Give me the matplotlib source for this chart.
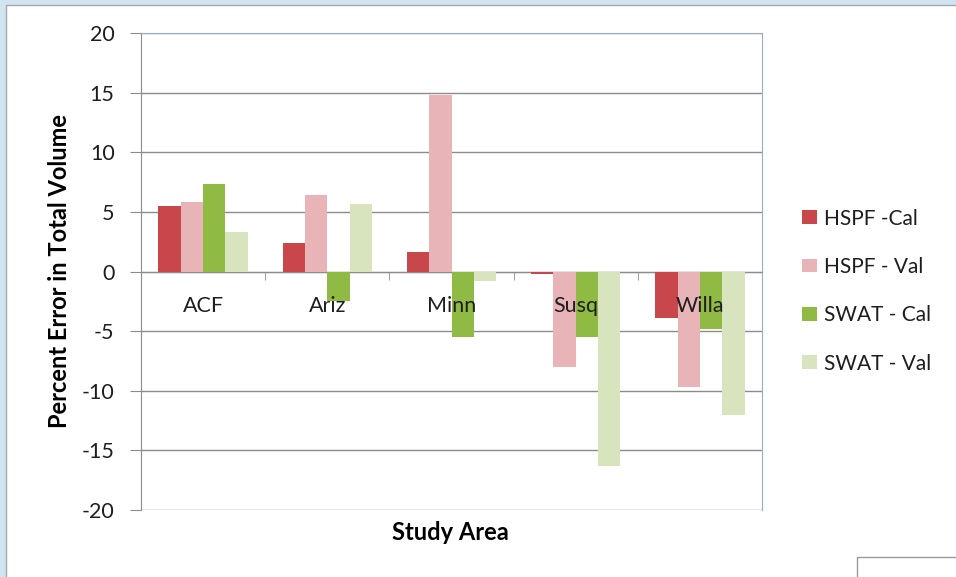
import matplotlib
matplotlib.use("Agg")
import matplotlib.pyplot as plt
import numpy as np
from matplotlib.patches import Rectangle
from matplotlib.ticker import FixedLocator

plt.rcParams['font.family'] = ['Lato', 'DejaVu Sans']
plt.rcParams['axes.unicode_minus'] = False

areas = ["ACF", "Ariz", "Minn", "Susq", "Willa"]
series_names = ["HSPF -Cal", "HSPF - Val", "SWAT - Cal", "SWAT - Val"]
hspf_cal = [5.5, 2.4, 1.6, -0.2, -3.9]
hspf_val = [5.8, 6.4, 14.8, -8.0, -9.7]
swat_cal = [7.3, -2.5, -5.5, -5.5, -4.8]
swat_val = [3.3, 5.7, -0.8, -16.3, -12.0]
y_ticks = [-20, -15, -10, -5, 0, 5, 10, 15, 20]

colors = ["#c9474a", "#e8b4b7", "#8fbb45", "#d7e4bd"]
text_color = "#1e1e1e"

W, H = 956, 577
fig = plt.figure(figsize=(W / 100, H / 100), dpi=100)
fig.patch.set_facecolor("#d3e4f1")

# white sheet behind the chart
sheet = Rectangle((6 / W, -0.01), 1, 1 - 5 / H + 0.01, transform=fig.transFigure,
                  facecolor="white", edgecolor="#a0a8b0", linewidth=1.0, zorder=-2)
fig.add_artist(sheet)
# small box in the lower right corner
corner = Rectangle((857 / W, -0.01), 1, 20 / H + 0.01, transform=fig.transFigure,
                   facecolor="white", edgecolor="#9a9a9a", linewidth=1.0, zorder=-1)
fig.add_artist(corner)

ax = fig.add_axes([141 / W, 1 - 510 / H, (762 - 141) / W, (510 - 33) / H])
ax.set_facecolor("white")

x = np.arange(len(areas))
bw = 0.18
data = [hspf_cal, hspf_val, swat_cal, swat_val]
for i, (vals, name, c) in enumerate(zip(data, series_names, colors)):
    ax.bar(x + (i - 1.5) * bw, vals, width=bw, color=c, label=name, zorder=3,
           linewidth=0)

ax.set_xlim(-0.5, len(areas) - 0.5)
ax.set_ylim(-20, 20)
ax.set_yticks(y_ticks)
ax.yaxis.grid(True, color="#8c8c8c", linewidth=1.0, zorder=1)
ax.set_axisbelow(True)
ax.tick_params(axis="y", labelsize=15.5, length=8, color="#8c8c8c", pad=11,
               labelcolor=text_color)

# category axis drawn through zero
ax.spines["bottom"].set_position(("data", 0))
ax.spines["bottom"].set_color("#8c8c8c")
ax.spines["left"].set_color("#8c8c8c")
ax.spines["top"].set_color("#95aecb")
ax.spines["right"].set_color("#95aecb")
ax.set_xticks(x)
ax.set_xticklabels([])
ax.xaxis.set_minor_locator(FixedLocator(np.arange(0.5, len(areas) - 0.5, 1)))
ax.tick_params(axis="x", which="major", length=0)
ax.tick_params(axis="x", which="minor", length=6, color="#8c8c8c")

# category names sit on top of the bars
for xi, name in zip(x, areas):
    ax.annotate(name, (xi, 0), xytext=(0, -24.5), textcoords="offset points",
                ha="center", va="center", fontsize=15.5, color=text_color,
                zorder=6)

ax.set_ylabel("Percent Error in Total Volume", fontsize=17, fontweight="bold",
              color="black")
ax.yaxis.set_label_coords(-0.113, 0.5)
fig.text(450 / W, 1 - 532 / H, "Study Area", fontsize=17, fontweight="bold",
         ha="center", va="center", color="black")

ax.legend(loc="center left", bbox_to_anchor=(1.0644, 0.459), frameon=False,
          fontsize=15, handlelength=0.7, handleheight=0.64,
          handletextpad=0.34, labelspacing=1.36, labelcolor=text_color,
          borderaxespad=0, borderpad=0)

fig.savefig("out.png", dpi=100, facecolor=fig.get_facecolor())
